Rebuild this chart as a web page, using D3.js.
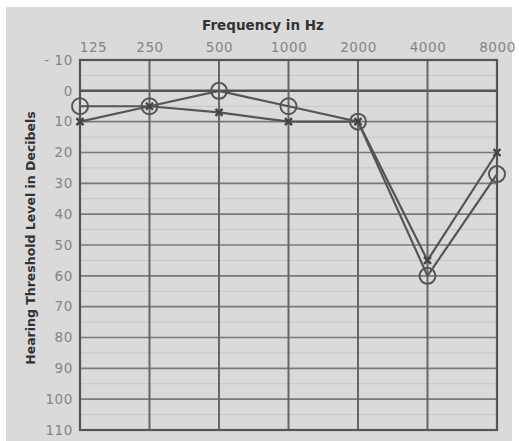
<!DOCTYPE html>
<html>
<head>
<meta charset="utf-8">
<script src="https://cdn.jsdelivr.net/npm/d3@7"></script>
<style>
  html, body { margin: 0; padding: 0; background: #ffffff; }
  svg { display: block; }
</style>
</head>
<body>
<svg id="chart" width="519" height="441"></svg>
<script>
// Audiogram: hearing threshold per test frequency, two ears
const frequencies = ["125", "250", "500", "1000", "2000", "4000", "8000"];
const levelTicks = [-10, 0, 10, 20, 30, 40, 50, 60, 70, 80, 90, 100, 110];
const rightEar = [5, 5, 0, 5, 10, 60, 27];   // drawn as circles
const leftEar  = [10, 5, 7, 10, 10, 55, 20]; // drawn as crosses

const svg = d3.select("#chart");
const W = 519, H = 441;
const plot = { left: 80, right: 497, top: 60, bottom: 430 };
const font = "DejaVu Sans, Verdana, sans-serif";

// paper background
svg.append("rect").attr("x", 6).attr("y", 7).attr("width", W - 13).attr("height", H - 7)
  .attr("fill", "#dadada");

const x = d3.scalePoint().domain(frequencies).range([plot.left, plot.right]).padding(0);
const y = d3.scaleLinear().domain([-10, 110]).range([plot.top, plot.bottom]);

// faint 5 dB lines
const minor = d3.range(-5, 110, 10);
svg.append("g").selectAll("line").data(minor).join("line")
  .attr("x1", plot.left).attr("x2", plot.right)
  .attr("y1", d => y(d)).attr("y2", d => y(d))
  .attr("stroke", "#c6c6c6").attr("stroke-width", 1);

// horizontal grid (10 dB)
svg.append("g").selectAll("line").data(levelTicks.slice(1, -1)).join("line")
  .attr("x1", plot.left).attr("x2", plot.right)
  .attr("y1", d => y(d)).attr("y2", d => y(d))
  .attr("stroke", d => d === 0 ? "#555" : "#7a7a7a")
  .attr("stroke-width", d => d === 0 ? 2.5 : 1.6);

// vertical grid at each test frequency
svg.append("g").selectAll("line").data(frequencies.slice(1, -1)).join("line")
  .attr("x1", d => x(d)).attr("x2", d => x(d))
  .attr("y1", plot.top).attr("y2", plot.bottom)
  .attr("stroke", "#666").attr("stroke-width", 2);

// frame
svg.append("rect")
  .attr("x", plot.left).attr("y", plot.top)
  .attr("width", plot.right - plot.left).attr("height", plot.bottom - plot.top)
  .attr("fill", "none").attr("stroke", "#555").attr("stroke-width", 2.2);

// top axis (frequency)
const topAxis = d3.axisTop(x).tickSize(0).tickPadding(6);
const gTop = svg.append("g").attr("transform", `translate(0,${plot.top - 2})`).call(topAxis);
gTop.select(".domain").remove();
gTop.selectAll("text")
  .attr("font-family", font).attr("font-size", 13.5).attr("fill", "#858585")
  .attr("letter-spacing", 0.6)
  .attr("dx", d => d === "125" ? 13 : 0);

// left axis (hearing level)
const leftAxis = d3.axisLeft(y).tickValues(levelTicks).tickSize(0).tickPadding(6)
  .tickFormat(d => d < 0 ? "- " + Math.abs(d) : d);
const gLeft = svg.append("g").attr("transform", `translate(${plot.left - 1},0)`).call(leftAxis);
gLeft.select(".domain").remove();
gLeft.selectAll("text")
  .attr("font-family", font).attr("font-size", 13.5).attr("fill", "#858585")
  .attr("letter-spacing", 0.6);

// titles
svg.append("text").attr("x", 263).attr("y", 30).attr("text-anchor", "middle")
  .attr("font-family", font).attr("font-weight", "bold")
  .attr("font-size", 13.5).attr("fill", "#333").text("Frequency in Hz");

svg.append("text").attr("transform", "translate(35,238) rotate(-90)").attr("text-anchor", "middle")
  .attr("font-family", font).attr("font-weight", "bold")
  .attr("font-size", 12.5).attr("fill", "#333").text("Hearing Threshold Level in Decibels");

// series lines
const line = d3.line().x((d, i) => x(frequencies[i])).y(d => y(d));
svg.append("path").datum(leftEar).attr("d", line)
  .attr("fill", "none").attr("stroke", "#555").attr("stroke-width", 2.2);
svg.append("path").datum(rightEar).attr("d", line)
  .attr("fill", "none").attr("stroke", "#555").attr("stroke-width", 2.2);

// left ear crosses
const cross = svg.append("g").selectAll("g").data(leftEar).join("g")
  .attr("transform", (d, i) => `translate(${x(frequencies[i])},${y(d)})`);
cross.append("path").attr("d", "M-3.5,-3.5L3.5,3.5M-3.5,3.5L3.5,-3.5")
  .attr("stroke", "#444").attr("stroke-width", 2.4).attr("fill", "none");

// right ear circles
svg.append("g").selectAll("circle").data(rightEar).join("circle")
  .attr("cx", (d, i) => x(frequencies[i])).attr("cy", d => y(d)).attr("r", 8)
  .attr("fill", "none").attr("stroke", "#555").attr("stroke-width", 2);
</script>
</body>
</html>
